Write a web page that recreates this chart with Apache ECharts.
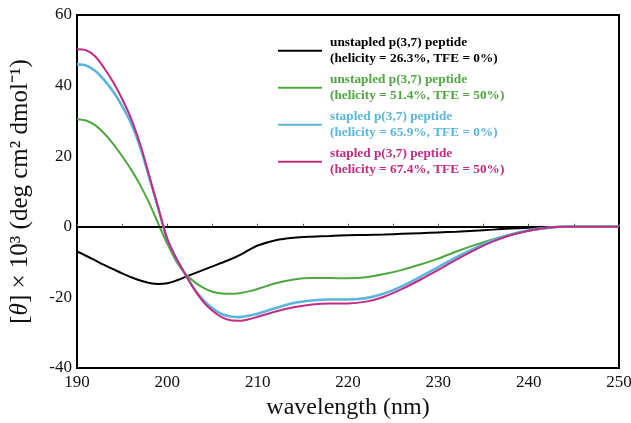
<!DOCTYPE html>
<html>
<head>
<meta charset="utf-8">
<script src="https://cdn.jsdelivr.net/npm/echarts@6/dist/echarts.min.js"></script>
<style>html,body{margin:0;padding:0;background:#fff;}#c{width:631px;height:423px;}</style>
</head>
<body>
<div id="c"></div>
<script>
var wavelength = [190,191,192,193,194,195,196,197,198,199,200,201,202,203,204,205,206,207,208,209,210,212,214,216,218,220,222,224,226,228,230,232,234,236,238,240,242,244,246,248,250];
var unstapledTFE0 = [-7,-8.2,-9.5,-10.8,-12,-13.2,-14.3,-15.2,-15.9,-16.2,-16,-15.2,-14.2,-13.2,-12.2,-11.2,-10.2,-9.2,-8,-6.6,-5.3,-3.8,-3.1,-2.8,-2.6,-2.4,-2.3,-2.2,-2.0,-1.8,-1.6,-1.4,-1.1,-0.8,-0.5,-0.3,-0.1,0,0,0,0];
var unstapledTFE50 = [30.5,30.1,28.8,26.5,23.5,20,16.2,11.8,6.7,0.9,-4.8,-9.8,-13.3,-15.6,-17.3,-18.4,-18.9,-19,-18.8,-18.3,-17.6,-16,-14.9,-14.5,-14.5,-14.6,-14.3,-13.4,-12.2,-10.7,-9,-7,-5.2,-3.6,-2.2,-1.1,-0.4,0,0,0,0];
var stapledTFE0 = [46,45.7,44.2,41.6,38.3,34.2,29.3,22.6,14,5.2,-3.5,-9,-13.5,-17.6,-20.8,-23.1,-24.7,-25.4,-25.6,-25.2,-24.6,-23,-21.6,-20.9,-20.6,-20.6,-20.2,-18.9,-16.8,-14.2,-11.4,-8.6,-6.1,-3.9,-2.2,-1,-0.3,0,0,0,0];
var stapledTFE50 = [50.3,50,48.3,45,41,36.2,30.6,23.3,14.4,5.3,-3.5,-9,-13.5,-17.8,-21.3,-23.8,-25.6,-26.5,-26.6,-26.2,-25.5,-24,-22.8,-22,-21.7,-21.7,-21.2,-19.8,-17.6,-15,-12.2,-9.3,-6.6,-4.2,-2.4,-1.1,-0.3,0,0,0,0];
var seriesNames = [
  'unstapled p(3,7) peptide|(helicity = 26.3%, TFE = 0%)',
  'unstapled p(3,7) peptide|(helicity = 51.4%, TFE = 50%)',
  'stapled p(3,7) peptide|(helicity = 65.9%, TFE = 0%)',
  'stapled p(3,7) peptide|(helicity = 67.4%, TFE = 50%)'
];
var seriesColors = ['#000000', '#4ea83f', '#5ab6de', '#c22c82'];
var seriesValues = [unstapledTFE0, unstapledTFE50, stapledTFE0, stapledTFE50];
var xTicks = [190, 200, 210, 220, 230, 240, 250];
var yTicks = [-40, -20, 0, 20, 40, 60];

function pairs(vals) {
  return wavelength.map(function (w, i) { return [w, vals[i]]; });
}
var serif = 'Liberation Serif';
var chart = echarts.init(document.getElementById('c'), null, {renderer: 'canvas'});
var series = seriesValues.map(function (vals, i) {
  var s = {
    name: seriesNames[i],
    type: 'line',
    data: pairs(vals),
    smooth: 0.3,
    symbol: 'none',
    showSymbol: false,
    lineStyle: {color: seriesColors[i], width: i === 2 ? 2.6 : 2},
    itemStyle: {color: seriesColors[i]},
    z: 3 + i
  };
  if (i === 0) {
    s.markLine = {
      silent: true,
      symbol: 'none',
      label: {show: false},
      lineStyle: {color: '#000', width: 1.6, type: 'solid'},
      data: [{yAxis: 0}]
    };
  }
  return s;
});
chart.setOption({
  animation: false,
  backgroundColor: '#fff',
  grid: {left: 77, right: 12, top: 15, bottom: 55, containLabel: false, outerBoundsMode: 'none',
    show: true, borderColor: '#000', borderWidth: 2, backgroundColor: 'transparent'},
  xAxis: {
    type: 'value', min: xTicks[0], max: xTicks[xTicks.length - 1], interval: 10,
    axisLine: {show: true, lineStyle: {color: '#000', width: 2}},
    axisTick: {show: true, inside: true, length: 3, lineStyle: {color: '#555'}},
    minorTick: {show: true, splitNumber: 2, length: 3, lineStyle: {color: '#555'}},
    splitLine: {show: false},
    axisLabel: {color: '#111', fontFamily: serif, fontSize: 17, margin: 6},
    name: 'wavelength (nm)', nameLocation: 'middle', nameGap: 28,
    nameTextStyle: {color: '#111', fontFamily: serif, fontSize: 24}
  },
  yAxis: {
    type: 'value', min: yTicks[0], max: yTicks[yTicks.length - 1], interval: 20,
    axisLine: {show: true, lineStyle: {color: '#000', width: 2}},
    axisTick: {show: false},
    splitLine: {show: false},
    axisLabel: {color: '#111', fontFamily: serif, fontSize: 17, margin: 5},
    name: '[{i|θ}] × 10³ (deg cm² dmol⁻¹)', nameLocation: 'middle', nameGap: 44, nameRotate: 90,
    nameTextStyle: {color: '#111', fontFamily: serif, fontSize: 25,
      rich: {i: {fontFamily: serif, fontStyle: 'italic', fontSize: 25, color: '#111'}}}
  },
  legend: {
    orient: 'vertical', left: 278, top: 26, padding: 0, itemGap: -12.5,
    itemWidth: 44, itemHeight: 14,
    selectedMode: false,
    data: seriesNames.map(function (n, i) {
      return {name: n, icon: 'path://M0,0 L44,0 L44,2 L0,2 Z', itemStyle: {color: seriesColors[i]},
        textStyle: {color: seriesColors[i]}};
    }),
    formatter: function (n) { return n.replace('|', '\n'); },
    textStyle: {fontFamily: serif, fontWeight: 'bold', fontSize: 13.3, lineHeight: 16.5, padding: [16.5, 0, 0, 3]}
  },
  series: series
});
</script>
</body>
</html>
